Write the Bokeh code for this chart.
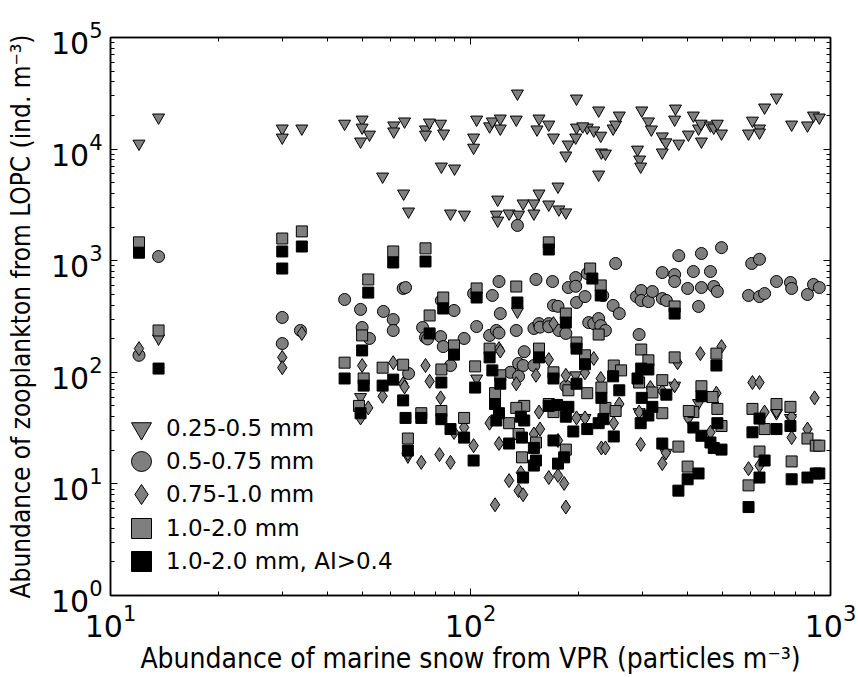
from bokeh.plotting import figure
from bokeh.models import LogAxis, Legend, LegendItem, Range1d, FixedTicker
from bokeh.embed import file_html
from bokeh.resources import INLINE

# ---- data ----
# 0.25-0.5 mm (triangles)
tri_x = [12.0, 13.6, 30.0, 30.0, 34.0, 44.7, 50, 50, 52.4, 49.5, 57, 61.2, 61.2, 65.6, 65.2, 67.3,
         75, 75, 76.9, 82.6, 84.2, 83, 90.3, 88, 96.2, 102, 102, 104, 113, 115, 121, 121, 135, 134,
         119, 118, 119, 128, 136, 140, 150, 150, 155, 165, 175, 176, 184, 155, 153, 165, 170, 187,
         184, 196, 197, 197, 211, 205, 220, 227, 230, 231, 237, 227, 249, 253, 259, 299, 312, 318,
         291, 295, 297, 341, 349, 341, 371, 369, 379, 403, 416, 430, 437, 438, 464, 474, 485, 498,
         592, 607, 635, 635, 656, 708, 780, 863, 897, 931,
         13.6, 135, 104, 49.5, 196, 208, 369, 294, 430, 708, 774, 67, 349]
tri_y = [11200, 19200, 15300, 12700, 15300, 16900, 18400, 15600, 13500, 11700, 5680, 16300, 14400,
         17700, 4000, 2760, 15000, 13500, 17300, 16900, 13800, 6980, 6700, 2650, 2590, 12700, 10300,
         18400, 16000, 17700, 18800, 15300, 31500, 18400, 3530, 2590, 2290, 2650, 2590, 3260, 3260,
         2650, 4000, 3190, 4620, 2880, 2710, 18800, 15000, 16600, 12700, 11000, 8770, 12700, 15600,
         28400, 15600, 16000, 14700, 22200, 13200, 9330, 9120, 5920, 15300, 16600, 20000, 22200,
         17700, 15000, 9900, 8070, 6980, 13000, 11500, 9330, 23100, 18400, 11200, 13500, 20000,
         15300, 16900, 11700, 16300, 15600, 16900, 13800, 13800, 18000, 15300, 14100, 23600, 29000,
         16600, 16300, 20000, 19200,
         201, 350, 88, 60, 94, 39, 76, 44, 53, 43, 39, 17.6, 19]

# 0.5-0.75 mm (circles)
cir_x = [13.6, 12.0, 30, 30, 33.7, 44.7, 49.5, 50, 52.4, 57.3, 61, 61, 65, 66, 67.3, 73.6, 75, 76,
         82.6, 83, 84, 90, 88, 96, 102, 104, 113, 115, 118, 120, 120, 121, 129, 135, 134, 136, 140,
         141, 136, 150, 150, 152, 155, 156, 165, 165, 169, 170, 175, 176, 184, 184, 187, 196, 196,
         197, 208, 211, 213, 220, 227, 230, 237, 233, 253, 249, 259, 294, 289, 298, 298, 312, 320,
         341, 341, 350, 369, 369, 379, 401, 416, 430, 438, 438, 464, 474, 485, 498, 592, 604, 635,
         635, 656, 708, 774, 780, 863, 897, 931]
cir_y = [1090, 142, 310, 181, 237, 449, 366, 252, 201, 351, 297, 237, 564, 575, 97.5, 252, 205, 199,
         209, 440, 170, 358, 115, 201, 508, 257, 214, 488, 237, 225, 651, 336, 100, 2070, 237, 120,
         115, 153, 92, 247, 115, 679, 273, 254, 273, 256, 651, 397, 390, 237, 223, 75, 575, 706, 590,
         422, 477, 767, 279, 273, 303, 262, 237, 488, 944, 397, 336, 218, 477, 541, 440, 430, 530,
         783, 458, 440, 751, 651, 1110, 564, 800, 389, 1160, 575, 800, 587, 530, 1310, 488, 944,
         1030, 477, 508, 651, 638, 564, 498, 612, 575]

# 0.75-1.0 mm (diamonds)
dia_x = [12, 30, 30, 34, 50, 61, 57, 65, 65.6, 75, 77, 82.6, 52, 49.5, 67, 73, 82, 88, 90, 102, 96,
         113, 120, 117, 128, 136, 140, 138, 120, 121, 134, 152, 165, 170, 155, 156, 150, 165, 175,
         182, 184, 197, 208, 184, 175, 220, 208, 230, 259, 250, 231, 237, 297, 294, 341, 349, 376,
         316, 341, 369, 403, 464, 485, 435, 498, 482, 592, 607, 635, 635, 656, 708, 780, 780, 863,
         903]
dia_y = [163, 136, 110, 223, 115, 122, 61, 79, 74, 115, 83, 59, 48, 39, 18.7, 15.6, 18.3, 15.6,
         28.9, 22, 32, 35, 23, 6.5, 10.7, 8.7, 8.0, 12.6, 163, 155, 79, 94, 130, 273, 44, 31, 28,
         11.4, 11.9, 10.1, 6.2, 39, 39, 94, 24.5, 133, 99, 88, 52, 35, 21, 21, 22.6, 44, 15.2, 19,
         122, 73, 68, 76, 39, 29, 48, 147, 170, 65, 13.7, 81, 81, 14.6, 44, 45, 26, 40, 31, 59]

# 1.0-2.0 mm (grey squares)
sq_x = [12, 13.6, 30, 34, 44.7, 61, 75, 52, 104, 134, 165, 84, 77, 184, 215, 230, 369, 50, 90, 113,
        155, 197, 57, 65, 83, 103, 208, 121, 170, 50.5, 117, 141, 165, 187, 211, 49, 73, 83, 96, 134,
        227, 250, 262, 298, 312, 369, 482, 341, 294, 231, 320, 438, 470, 607, 708, 774, 237, 253,
        341, 67, 128, 139, 136, 152, 184, 170, 378, 401, 416, 498, 656, 635, 780, 863, 910, 931,
        592, 404, 485]
sq_y = [1460, 237, 1580, 1830, 122, 1210, 1290, 679, 564, 587, 1460, 468, 323, 336, 851, 600, 389,
        214, 174, 163, 163, 185, 110, 117, 106, 113, 142, 94, 100, 88, 65, 50, 52, 69, 65, 50, 43,
        45, 39, 48, 218, 115, 104, 160, 128, 136, 147, 85, 81, 73, 66, 75, 60, 47, 52, 49, 48, 45,
        43, 25.5, 35, 17.3, 28, 23.5, 20.3, 44, 21.6, 14.3, 44, 33, 31, 19.5, 15.9, 25.5, 22, 22,
        9.7, 45, 47]

# 1.0-2.0 mm, AI>0.4 (black squares)
bsq_x = [12, 13.6, 30, 30, 34, 44.7, 61, 75, 52, 104, 135, 165, 84, 77, 184, 218, 230, 369, 50, 90,
         113, 115, 155, 197, 208, 57, 61, 83, 103, 121, 170, 197, 50.5, 65, 117, 165, 174, 187, 49.5,
         66, 73, 83, 120, 88, 96, 67, 102, 118, 128, 138, 139, 141, 150, 152, 150, 140, 170, 175,
         182, 184, 193, 211, 227, 234, 250, 249, 298, 312, 291, 259, 482, 231, 299, 320, 350, 438,
         297, 312, 341, 378, 401, 430, 416, 438, 464, 474, 498, 485, 607, 635, 708, 774, 656, 635,
         592, 780, 863, 910, 931]
bsq_y = [1180, 108, 1210, 851, 1340, 88, 964, 984, 518, 468, 422, 1260, 373, 223, 279, 692, 488, 336,
         157, 144, 136, 104, 136, 163, 118, 76, 86, 81, 73, 79, 88, 79, 76, 56, 52, 50, 51, 49, 43,
         39, 39, 38, 43, 31, 26, 19.9, 16.2, 37, 23, 40, 26, 37, 21, 16.2, 14.6, 11.4, 24.5, 15.2,
         17.3, 40, 29.5, 31, 35, 38, 26.6, 92, 108, 106, 88, 69, 115, 59, 59, 49, 63, 61, 35, 41,
         23, 8.7, 11, 12.4, 32, 27, 23.5, 21, 20.3, 35, 29, 38.5, 31, 33, 16.2, 11.4, 6.2, 11,
         11.4, 12.4, 12.4]

labels = ["0.25-0.5 mm", "0.5-0.75 mm", "0.75-1.0 mm", "1.0-2.0 mm", "1.0-2.0 mm, AI>0.4"]
major_x = [10, 100, 1000]
major_y = [1, 10, 100, 1000, 10000, 100000]

GREY = "#7f7f7f"
FONT = "DejaVu Sans"

p = figure(frame_width=720, frame_height=558, x_axis_type="log", y_axis_type="log",
           x_range=Range1d(10, 1000), y_range=Range1d(1, 1e5),
           output_backend="svg", toolbar_location=None,
           min_border_left=110, min_border_right=28, min_border_top=37, min_border_bottom=82,
           background_fill_color="white", border_fill_color="white")
p.grid.visible = False
p.outline_line_color = "black"
p.outline_line_width = 1.5

r_tri = p.scatter(tri_x, tri_y, marker="inverted_triangle", size=12, fill_color=GREY, line_color="black", line_width=1)
r_cir = p.scatter(cir_x, cir_y, marker="circle", size=12, fill_color=GREY, line_color="black", line_width=1)
r_dia = p.scatter(dia_x, dia_y, marker="diamond", size=14, fill_color=GREY, line_color="black", line_width=1)
r_sq = p.scatter(sq_x, sq_y, marker="square", size=11, fill_color=GREY, line_color="black", line_width=1)
r_bsq = p.scatter(bsq_x, bsq_y, marker="square", size=11, fill_color="black", line_color="black", line_width=1)

xminor = [m * d for d in major_x[:-1] for m in range(2, 10)]
yminor = [m * d for d in major_y[:-1] for m in range(2, 10)]

bottom = p.below[0]
left = p.left[0]
bottom.ticker = FixedTicker(ticks=major_x, minor_ticks=xminor)
left.ticker = FixedTicker(ticks=major_y, minor_ticks=yminor)
top = LogAxis(ticker=FixedTicker(ticks=major_x, minor_ticks=xminor))
right = LogAxis(ticker=FixedTicker(ticks=major_y, minor_ticks=yminor))
p.add_layout(top, "above")
p.add_layout(right, "right")

for ax in [bottom, left, top, right]:
    ax.major_tick_in = 7
    ax.major_tick_out = 0
    ax.minor_tick_in = 4
    ax.minor_tick_out = 0
    ax.axis_line_color = "black"
    ax.axis_line_width = 1.5
    ax.major_tick_line_color = "black"
    ax.minor_tick_line_color = "black"
    ax.major_label_text_font = FONT
    ax.major_label_text_color = "black"
    ax.major_label_text_font_size = "30px"
    ax.major_label_standoff = 8

for ax in [top, right]:
    ax.major_label_text_font_size = "2px"
    ax.major_label_text_alpha = 0
    ax.major_label_standoff = 0

bottom.axis_label = "Abundance of marine snow from VPR (particles m\u207b\u00b3)"
left.axis_label = "Abundance of zooplankton from LOPC (ind. m\u207b\u00b3)"
bottom.axis_label_text_font_size = "28px"
left.axis_label_text_font_size = "26px"
for ax in [bottom, left]:
    ax.axis_label_text_font = "DejaVu Sans Condensed"
    ax.axis_label_text_font_style = "normal"
    ax.axis_label_text_color = "black"
bottom.axis_label_standoff = 2
left.axis_label_standoff = 12

# one legend per entry so rows can sit closer than the glyph box
row_offsets = [142, 109, 76, 42, 9]
for l, r, yoff in zip(labels, [r_tri, r_cir, r_dia, r_sq, r_bsq], row_offsets):
    lg = Legend(items=[LegendItem(label=l, renderers=[r])],
                location=(6, yoff), glyph_width=50, glyph_height=50, spacing=0,
                label_standoff=-3, padding=0, margin=0, border_line_color=None,
                background_fill_alpha=0, label_text_font=FONT, label_text_font_size="23px",
                label_text_color="black")
    p.add_layout(lg)

open("out.html", "w").write(file_html(p, INLINE))
